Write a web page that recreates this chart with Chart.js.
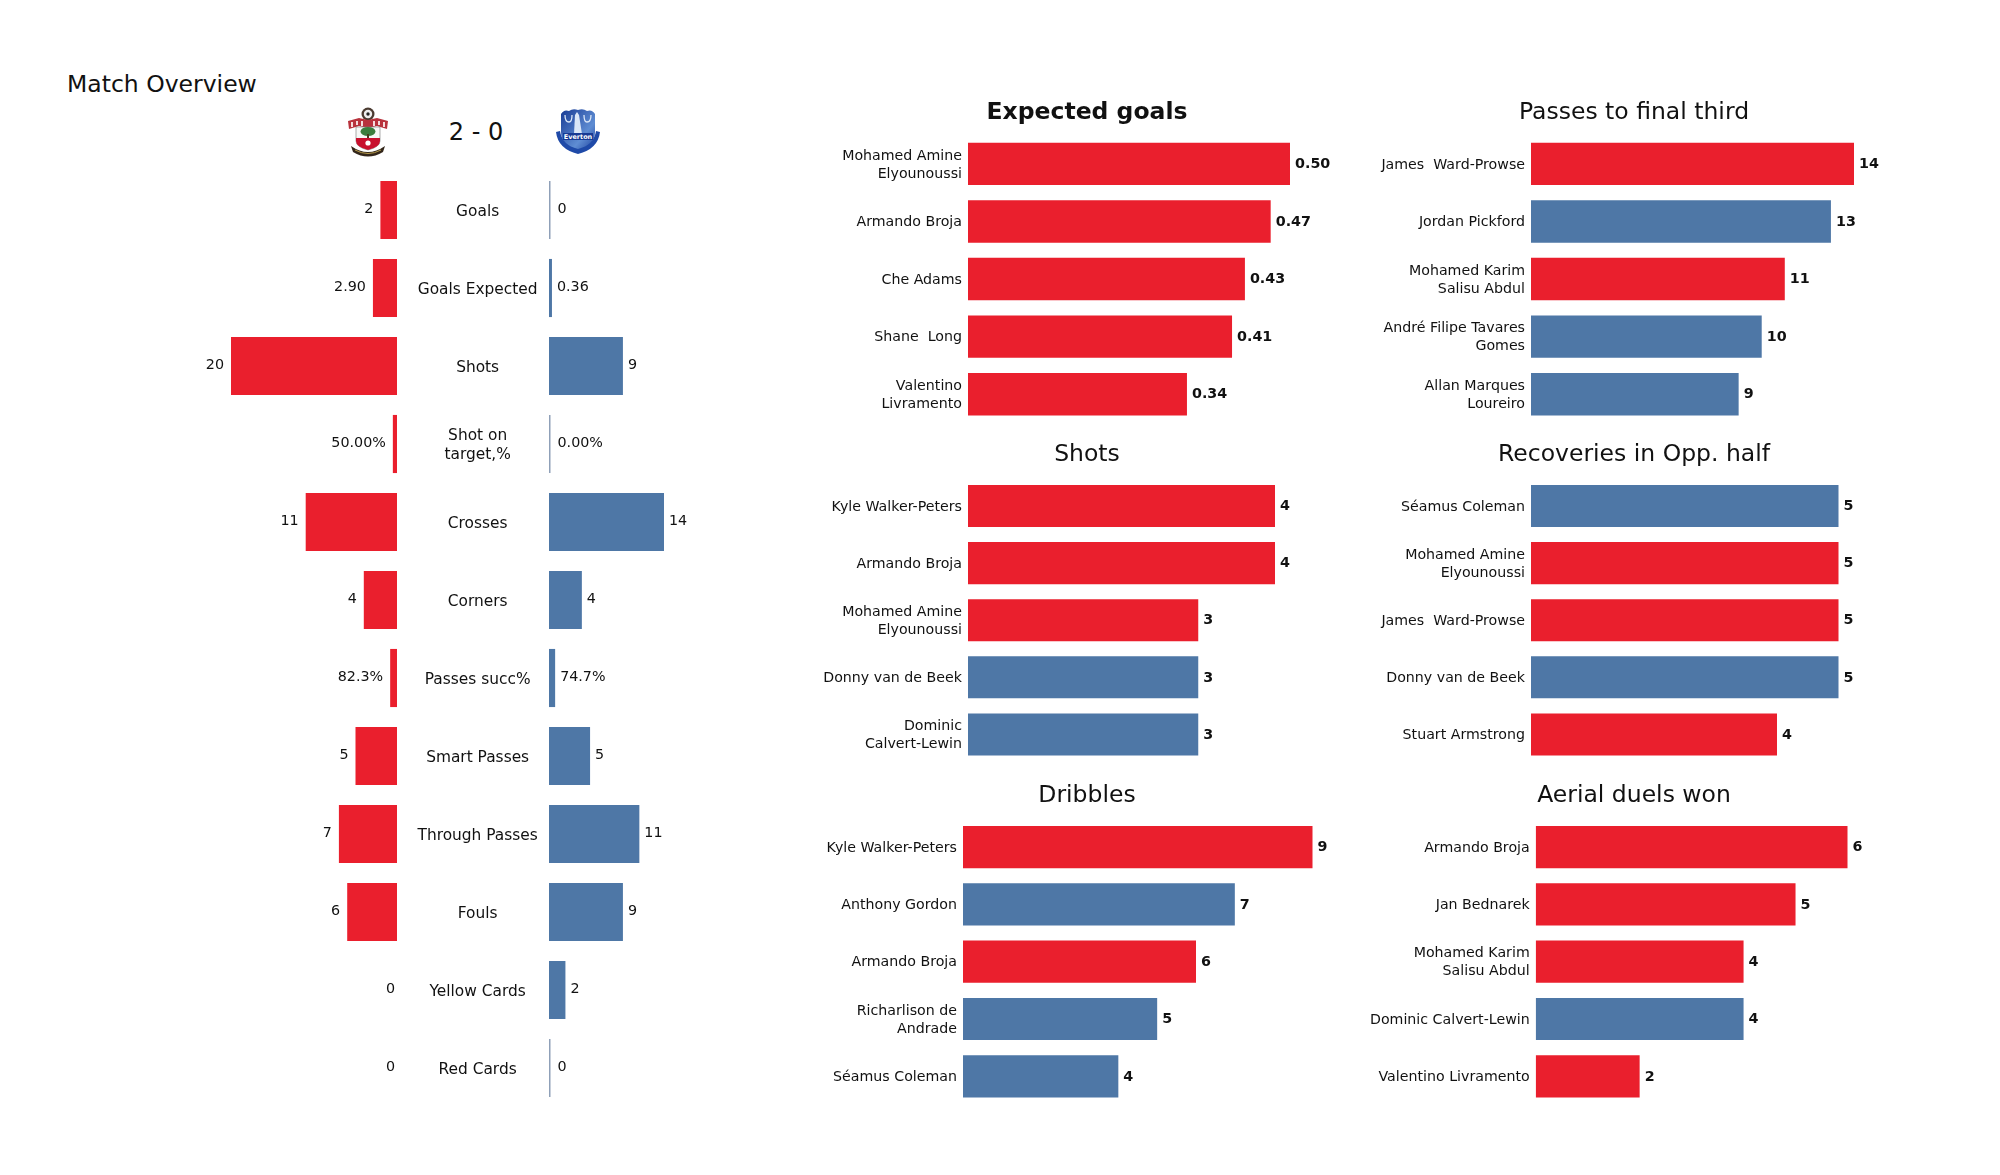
<!DOCTYPE html>
<html>
<head>
<meta charset="utf-8">
<script src="https://cdn.jsdelivr.net/npm/chart.js@4"></script>
<style>
    html, body { margin: 0; background: #fff; }
    #page { position: relative; width: 2000px; height: 1175px; overflow: hidden; font-family: "DejaVu Sans"; color: #111; }
    #page canvas { position: absolute; }
    .head { position: absolute; line-height: 30px; white-space: pre; }
    svg { position: absolute; }
</style>
</head>
<body>
<div id="page">
    <div class="head" style="left:67px;top:69px;font-size:23.5px">Match Overview</div>
    <div class="head" style="left:416px;top:117px;width:120px;text-align:center;font-size:24px">2 - 0</div>
    <svg style="left:347px;top:107px" width="44" height="50" viewBox="0 0 44 50">
        <circle cx="21" cy="7" r="6.5" fill="#4a3a30"/>
        <circle cx="21" cy="7" r="4.2" fill="#eee"/>
        <circle cx="21" cy="7" r="1.7" fill="#222"/>
        <path d="M1 14 L12 11 L21 13 L30 11 L41 14 L40 22 L30 19 L21 21 L12 19 L2 22 Z" fill="#b8323c"/>
        <path d="M5 15 L5 20 M10 14 L10 18 M15 14 L15 19 M27 14 L27 19 M32 14 L32 18 M37 15 L37 20" stroke="#f4dcdc" stroke-width="2"/>
        <path d="M9 20 H33 V34 Q33 40 21 43 Q9 40 9 34 Z" fill="#f6f8f6" stroke="#777" stroke-width=".6"/>
        <path d="M9 31 H33 V34 Q33 40 21 43 Q9 40 9 34 Z" fill="#c8102e"/>
        <ellipse cx="21" cy="24.5" rx="7.5" ry="4.6" fill="#3c7d3e"/>
        <rect x="20" y="27" width="2" height="4" fill="#4a3a20"/>
        <circle cx="21" cy="36" r="2.6" fill="#fff"/>
        <path d="M4 39 Q21 51 38 39 L36 45 Q21 54 6 45 Z" fill="#33261a"/>
        <path d="M8 43 Q21 50 34 43" stroke="#b59a4a" stroke-width="1" fill="none"/>
    </svg>
    <svg style="left:555px;top:107px" width="46" height="48" viewBox="0 0 46 48">
        <defs>
            <linearGradient id="towerFade" x1="0" y1="0" x2="1" y2="1">
                <stop offset="0" stop-color="#173a94"/>
                <stop offset="0.65" stop-color="#5f8dd3"/>
                <stop offset="1" stop-color="#1b3f9c"/>
            </linearGradient>
        </defs>
        <path d="M6 7 Q9 2 14 4 Q18 1 23 3 Q28 1 32 4 Q37 2 40 7 L40 25 Q40 38 23 44 Q6 38 6 25 Z" fill="url(#towerFade)"/>
        <path d="M20 8 L22 5 L24 8 L27 27 H19 Z" fill="#dbe7f7"/>
        <path d="M10 8 Q10 15 14 15 Q17 15 17 8 M36 8 Q36 15 32 15 Q29 15 29 8" stroke="#dbe7f7" stroke-width="1.3" fill="none"/>
        <path d="M1 25 Q3 42 23 47 Q43 42 45 25 L41 24 Q39 38 23 42 Q7 38 5 24 Z" fill="#1f4aa8"/>
        <rect x="8" y="26" width="30" height="7" fill="#173a94"/>
        <text x="23" y="32" font-size="6.5" font-weight="bold" fill="#fff" text-anchor="middle" font-family="DejaVu Sans">Everton</text>
    </svg>
</div>
<script>
// overview table
const overviewLabels = ["Goals", "Goals Expected", "Shots", ["Shot on", "target,%"], "Crosses", "Corners",
    "Passes succ%", "Smart Passes", "Through Passes", "Fouls", "Yellow Cards", "Red Cards"];
const homeValues = [2, 2.90, 20, 0.50, 11, 4, 0.823, 5, 7, 6, 0, 0];
const awayValues = [0, 0.36, 9, 0, 14, 4, 0.747, 5, 11, 9, 2, 0];
const homeText = ["2", "2.90", "20", "50.00%", "11", "4", "82.3%", "5", "7", "6", "0", "0"];
const awayText = ["0", "0.36", "9", "0.00%", "14", "4", "74.7%", "5", "11", "9", "2", "0"];

// player tables, team: h = Southampton, a = Everton
const xgNames = [["Mohamed Amine", "Elyounoussi"], "Armando Broja", "Che Adams", "Shane  Long", ["Valentino", "Livramento"]];
const xgValues = [0.50, 0.47, 0.43, 0.41, 0.34];
const xgTeams = ["h", "h", "h", "h", "h"];

const shotNames = ["Kyle Walker-Peters", "Armando Broja", ["Mohamed Amine", "Elyounoussi"], "Donny van de Beek", ["Dominic", "Calvert-Lewin"]];
const shotValues = [4, 4, 3, 3, 3];
const shotTeams = ["h", "h", "h", "a", "a"];

const dribbleNames = ["Kyle Walker-Peters", "Anthony Gordon", "Armando Broja", ["Richarlison de", "Andrade"], "Séamus Coleman"];
const dribbleValues = [9, 7, 6, 5, 4];
const dribbleTeams = ["h", "a", "h", "a", "a"];

const passNames = ["James  Ward-Prowse", "Jordan Pickford", ["Mohamed Karim", "Salisu Abdul"], ["André Filipe Tavares", "Gomes"], ["Allan Marques", "Loureiro"]];
const passValues = [14, 13, 11, 10, 9];
const passTeams = ["h", "a", "h", "a", "a"];

const recoveryNames = ["Séamus Coleman", ["Mohamed Amine", "Elyounoussi"], "James  Ward-Prowse", "Donny van de Beek", "Stuart Armstrong"];
const recoveryValues = [5, 5, 5, 5, 4];
const recoveryTeams = ["a", "h", "h", "a", "h"];

const aerialNames = ["Armando Broja", "Jan Bednarek", ["Mohamed Karim", "Salisu Abdul"], "Dominic Calvert-Lewin", "Valentino Livramento"];
const aerialValues = [6, 5, 4, 4, 2];
const aerialTeams = ["h", "h", "h", "a", "h"];

const RED = "#ea1f2d";
const BLUE = "#4e77a6";
const ZERO_LINE = "#8fa0b8";
const teamColor = { h: RED, a: BLUE };
const FONT = "DejaVu Sans";
const INK = "#111";

Chart.defaults.font.family = FONT;
Chart.defaults.color = INK;

function addCanvas(left, top, width, height) {
    const canvas = document.createElement("canvas");
    canvas.width = width;
    canvas.height = height;
    canvas.style.left = left + "px";
    canvas.style.top = top + "px";
    document.getElementById("page").appendChild(canvas);
    return canvas;
}

// writes the number next to each bar
function valueLabels(texts, values, side, gap, zeroGap, weight, size, dy) {
    return {
        id: "valueLabels",
        afterDatasetsDraw(chart) {
            const ctx = chart.ctx;
            ctx.save();
            ctx.font = `${weight} ${size}px "${FONT}"`;
            ctx.fillStyle = INK;
            ctx.textBaseline = "middle";
            ctx.textAlign = side === "left" ? "right" : "left";
            chart.getDatasetMeta(0).data.forEach((bar, i) => {
                const g = values[i] === 0 ? zeroGap : gap;
                const x = side === "left" ? bar.x - g : bar.x + g;
                ctx.fillText(texts[i], x, bar.y + dy);
            });
            ctx.restore();
        }
    };
}

// fixed axis width, and no extra room above and below for the first and last label
function fitYAxis(width) {
    return function (axis) {
        axis.width = width;
        axis.paddingTop = 0;
        axis.paddingBottom = 0;
    };
}

function overviewChart(values, texts, side) {
    const isHome = side === "left";
    const top = 171, height = 936;
    const left = isHome ? 150 : 549;
    const width = isHome ? 399 : 211;
    new Chart(addCanvas(left, top, width, height), {
        type: "bar",
        data: {
            labels: overviewLabels,
            datasets: [{
                data: values,
                // a zero still shows as a thin pale line on the Everton side
                backgroundColor: isHome ? RED : values.map(v => v === 0 ? ZERO_LINE : BLUE),
                barPercentage: 0.745,
                categoryPercentage: 1,
                minBarLength: isHome ? 0 : 1.5
            }]
        },
        options: {
            indexAxis: "y",
            responsive: false,
            animation: false,
            devicePixelRatio: 1,
            layout: { padding: isHome ? { left: 81 } : { right: 96 } },
            plugins: { legend: { display: false }, tooltip: { enabled: false } },
            scales: {
                x: { display: false, min: 0, max: isHome ? 20 : 14, reverse: isHome },
                y: isHome ? {
                    position: "right",
                    afterFit: fitYAxis(152),
                    grid: { display: false, drawTicks: false },
                    border: { display: false },
                    ticks: { autoSkip: false, crossAlign: "center", padding: 20.5, labelOffset: 1.5, color: INK, font: { size: 15.4 } }
                } : { display: false }
            }
        },
        plugins: [valueLabels(texts, values, side, isHome ? 7 : 5, isHome ? 2 : 7, "normal", 14.3, -1)]
    });
}

function playerChart(p) {
    const titleSize = 23.5;
    const lineHeight = titleSize * 1.2;
    const canvasTop = Math.round(p.titleY - lineHeight / 2);
    const bottom = p.firstY + p.rowGap * 4.5;
    const plotTop = p.firstY - p.rowGap / 2;
    const canvas = addCanvas(p.left, canvasTop, p.right - p.left, Math.round(bottom - canvasTop));
    // axis runs on to the right edge of the canvas so the title stays centred on the panel
    const maxValue = Math.max(...p.values);
    const xMax = maxValue * (p.right - p.barStart) / (p.barEnd - p.barStart);
    new Chart(canvas, {
        type: "bar",
        data: {
            labels: p.names,
            datasets: [{
                data: p.values,
                backgroundColor: p.teams.map(t => teamColor[t]),
                barPercentage: 0.736,
                categoryPercentage: 1
            }]
        },
        options: {
            indexAxis: "y",
            responsive: false,
            animation: false,
            devicePixelRatio: 1,
            plugins: {
                legend: { display: false },
                tooltip: { enabled: false },
                title: {
                    display: true,
                    text: p.title,
                    color: INK,
                    font: { size: titleSize, weight: p.bold ? "bold" : "normal" },
                    padding: { top: 0, bottom: plotTop - canvasTop - lineHeight }
                }
            },
            scales: {
                x: { display: false, min: 0, max: xMax },
                y: {
                    afterFit: fitYAxis(p.barStart - p.left),
                    grid: { display: false, drawTicks: false },
                    border: { display: false },
                    ticks: { autoSkip: false, padding: 6, labelOffset: 1, color: INK, font: { size: 14.2, lineHeight: 1.27 } }
                }
            }
        },
        plugins: [valueLabels(p.texts || p.values.map(String), p.values, "right", 5, 5, "bold", 14.3, 0.5)]
    });
}

overviewChart(homeValues, homeText, "left");
overviewChart(awayValues, awayText, "right");

playerChart({ title: "Expected goals", bold: true, names: xgNames, values: xgValues, teams: xgTeams,
    texts: xgValues.map(v => v.toFixed(2)), left: 810, right: 1364, barStart: 968, barEnd: 1290, titleY: 113, firstY: 163.8, rowGap: 57.5 });
playerChart({ title: "Shots", names: shotNames, values: shotValues, teams: shotTeams,
    left: 810, right: 1364, barStart: 968, barEnd: 1275, titleY: 455, firstY: 506, rowGap: 57.1 });
playerChart({ title: "Dribbles", names: dribbleNames, values: dribbleValues, teams: dribbleTeams,
    left: 810, right: 1364, barStart: 963, barEnd: 1312.5, titleY: 796, firstY: 847, rowGap: 57.25 });
playerChart({ title: "Passes to final third", names: passNames, values: passValues, teams: passTeams,
    left: 1360, right: 1908, barStart: 1531, barEnd: 1854, titleY: 113, firstY: 163.8, rowGap: 57.5 });
playerChart({ title: "Recoveries in Opp. half", names: recoveryNames, values: recoveryValues, teams: recoveryTeams,
    left: 1360, right: 1908, barStart: 1531, barEnd: 1838.5, titleY: 455, firstY: 506, rowGap: 57.1 });
playerChart({ title: "Aerial duels won", names: aerialNames, values: aerialValues, teams: aerialTeams,
    left: 1360, right: 1908, barStart: 1535.7, barEnd: 1847.5, titleY: 796, firstY: 847, rowGap: 57.25 });
</script>
</body>
</html>
